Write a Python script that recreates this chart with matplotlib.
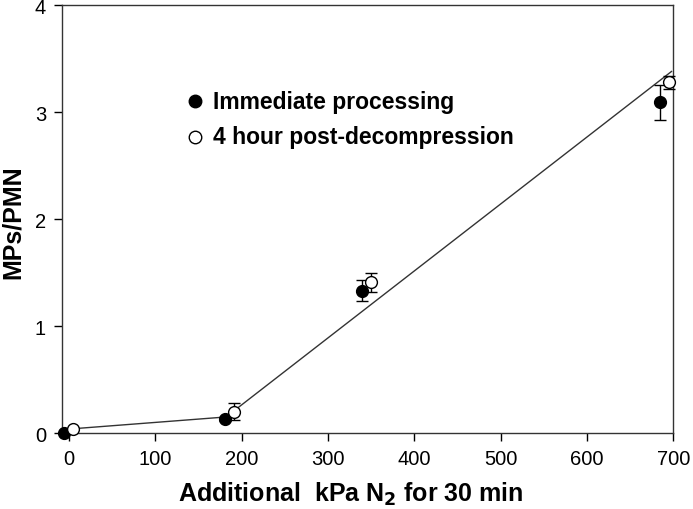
import matplotlib
matplotlib.use("Agg")
import matplotlib.pyplot as plt

plt.rcParams['font.family'] = ['Liberation Sans', 'DejaVu Sans']

# Immediate processing (filled)
imm_x = [-6, 181, 339, 685]
imm_y = [0.0, 0.13, 1.33, 3.09]
imm_err = [0.0, 0.02, 0.10, 0.16]

# 4 hour post-decompression (open)
post_x = [5, 191, 350, 695]
post_y = [0.04, 0.20, 1.41, 3.28]
post_err = [0.0, 0.08, 0.09, 0.06]

# Fitted line
fit_x = [5, 182, 698]
fit_y = [0.04, 0.15, 3.38]

fig = plt.figure(figsize=(6.93, 5.10), dpi=100)
ax = fig.add_axes([0.0895, 0.149, 0.882, 0.839])

ax.plot(fit_x, fit_y, color='#333333', lw=1.0, zorder=2)
ax.errorbar(imm_x, imm_y, yerr=imm_err, fmt='o', color='black', mfc='black', mec='black',
            ms=8.5, capsize=4.5, elinewidth=1.0, capthick=1.0, clip_on=False, zorder=3)
ax.errorbar(post_x, post_y, yerr=post_err, fmt='o', color='black', mfc='white', mec='black',
            ms=8.5, mew=1.0, capsize=4.5, elinewidth=1.0, capthick=1.0, clip_on=False, zorder=4)

ax.set_xlim(-8, 700)
ax.set_ylim(0, 4)
ax.set_xticks([0, 100, 200, 300, 400, 500, 600, 700])
ax.set_yticks([0, 1, 2, 3, 4])
ax.tick_params(direction='out', length=5.5, width=1, labelsize=14.5, pad=6,
               top=False, right=False)
for s in ax.spines.values():
    s.set_linewidth(1.0)
    s.set_color('#333333')

fig.text(351 / 693, 1 - 494 / 510, 'Additional  kPa N$_\\mathbf{2}$ for 30 min',
         fontsize=18, fontweight='bold', ha='center', va='center')
fig.text(13 / 693, 1 - 222 / 510, 'MPs/PMN', fontsize=18, fontweight='bold',
         ha='center', va='center', rotation=90)

# Legend as text
ax.plot([146], [3.10], 'o', color='black', ms=9)
ax.plot([146], [2.77], 'o', mfc='white', mec='black', ms=9, mew=1.0)
ax.text(167, 3.10, 'Immediate processing', fontsize=16.5, fontweight='bold', va='center', ha='left')
ax.text(167, 2.77, '4 hour post-decompression', fontsize=16.5, fontweight='bold', va='center', ha='left')

fig.savefig('out.png', dpi=100)
